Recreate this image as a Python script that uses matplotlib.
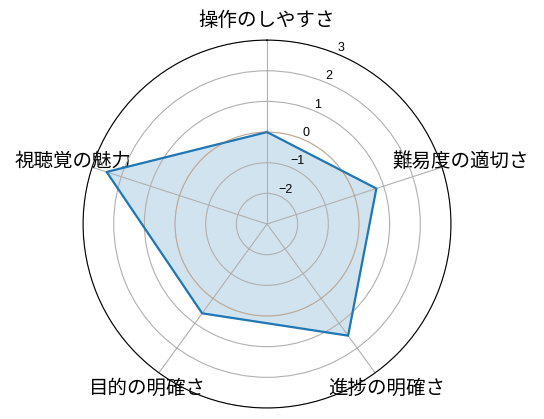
import numpy as np
import matplotlib
matplotlib.use('Agg')
import matplotlib.pyplot as plt

plt.rcParams['font.family'] = ['Noto Sans CJK JP', 'DejaVu Sans']

categories = ['操作のしやすさ', '難易度の適切さ', '進捗の明確さ', '目的の明確さ', '視聴覚の魅力']
scores = [0.0, 0.75, 1.5, 0.6, 2.5]
r_ticks = [-2, -1, 0, 1, 2, 3]

n = len(categories)
angles = np.linspace(0, 2 * np.pi, n, endpoint=False).tolist()
vals = scores + scores[:1]
ang = angles + angles[:1]

fig = plt.figure(figsize=(5.44, 4.19), dpi=100)
ax = fig.add_axes([0.1526, 0.0263, 0.6765, 0.878], projection='polar')
ax.set_theta_offset(np.pi / 2)
ax.set_theta_direction(-1)

ax.plot(ang, vals, color='C0', linewidth=1.6)
ax.fill(ang, vals, color='C0', alpha=0.2)

# faint zero ring
circ = np.linspace(0, 2 * np.pi, 200)
ax.plot(circ, np.zeros_like(circ), color='C1', linewidth=0.8, alpha=0.18)

ax.set_ylim(-3, 3)
ax.set_yticks(r_ticks)
ax.set_yticklabels([str(t).replace('-', '\u2212') for t in r_ticks],
                   fontsize=9, family=['Liberation Sans', 'DejaVu Sans'])
ax.set_xticks(angles)
ax.set_xticklabels(categories, fontsize=14)
ax.grid(True, color='#b0b0b0', linewidth=0.8)

fig.savefig('out.png', dpi=100)
